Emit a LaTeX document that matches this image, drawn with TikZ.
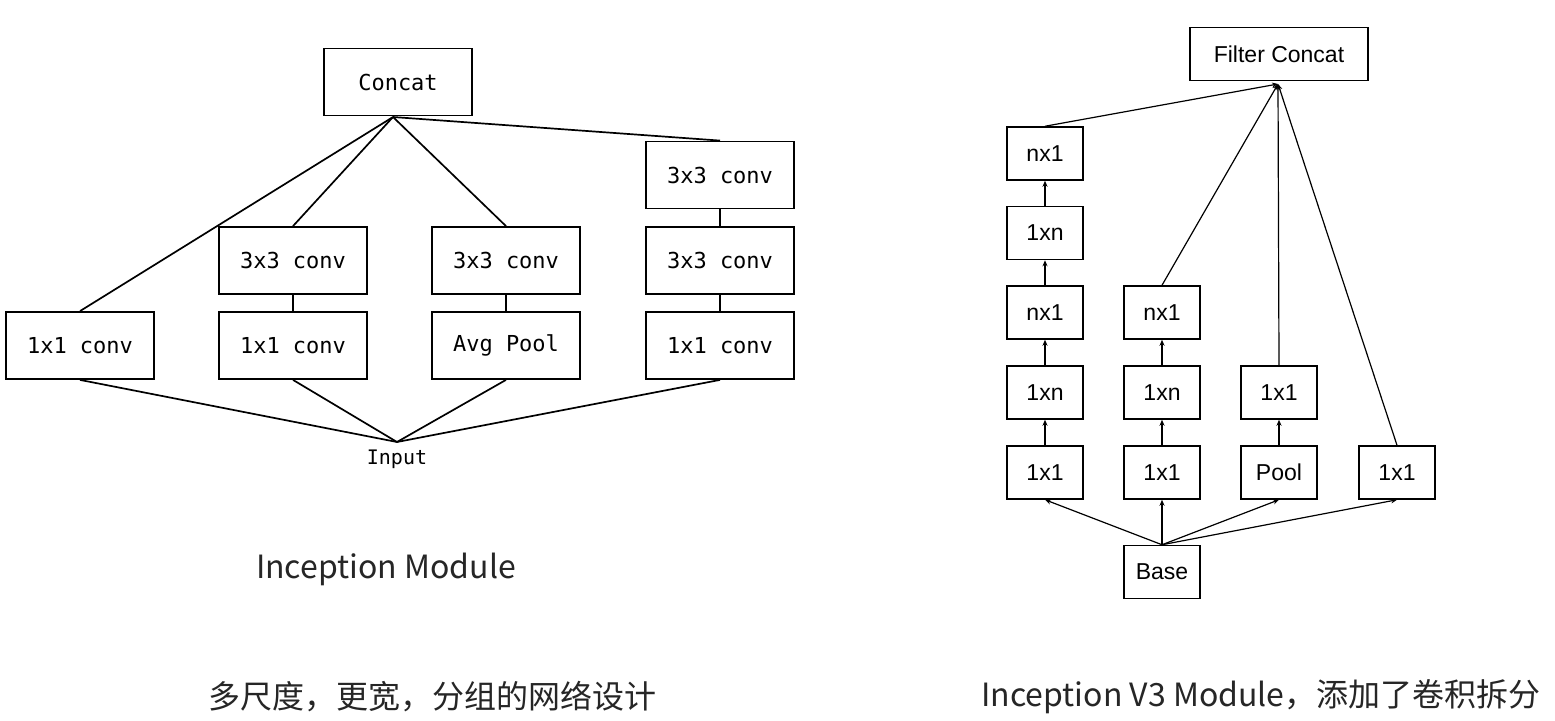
\documentclass[tikz,border=0pt]{standalone}
\usepackage{fontspec}
\setmonofont{DejaVu Sans Mono}
\setsansfont{Liberation Sans}
\newfontfamily\cjk{Noto Sans CJK SC}
\usetikzlibrary{arrows.meta}
\begin{document}
\begin{tikzpicture}[x=1pt, y=-1pt,
  mbox/.style={draw, line width=1.8pt, minimum width=148pt, minimum height=67pt, inner sep=0pt, font=\fontsize{22}{24}\selectfont\ttfamily},
  vbox/.style={draw, line width=1.5pt, minimum width=76pt, minimum height=53pt, inner sep=0pt, font=\fontsize{23}{25}\selectfont\sffamily},
  mline/.style={line width=1.7pt},
  varr/.style={line width=1.2pt, -{Stealth[length=6pt,width=5pt]}},
  captext/.style={font=\fontsize{32}{34}\selectfont\cjk, text=black!85}]
\useasboundingbox[fill=white] (0,0) rectangle (1555,720);
% Inception Module
\node[mbox] (concat) at (398,82){Concat};
\node[mbox] (c1) at (80,345.5){1x1 conv};
\node[mbox] (b2) at (293,260.5){3x3 conv};
\node[mbox] (a2) at (293,345.5){1x1 conv};
\node[mbox] (b3) at (506,260.5){3x3 conv};
\node[mbox] (a3) at (506,345.5){Avg Pool};
\node[mbox] (c4) at (720,175){3x3 conv};
\node[mbox] (b4) at (720,260.5){3x3 conv};
\node[mbox] (a4) at (720,345.5){1x1 conv};
\node[font=\fontsize{20}{22}\selectfont\ttfamily] (input) at (397,459){Input};
\coordinate (mtop) at (393,117);
\coordinate (mbot) at (397,442);
\draw[mline](c1.north) -- (mtop);
\draw[mline](b2.north) -- (mtop);
\draw[mline](b3.north) -- (mtop);
\draw[mline](c4.north) -- (mtop);
\draw[mline](a2) -- (b2);
\draw[mline](a3) -- (b3);
\draw[mline](a4) -- (b4);
\draw[mline](b4) -- (c4);
\draw[mline](c1.south) -- (mbot);
\draw[mline](a2.south) -- (mbot);
\draw[mline](a3.south) -- (mbot);
\draw[mline](a4.south) -- (mbot);
\node[captext] (mcap) at (386,569){Inception Module};
\node[captext] (mtxt) at (432,697){多尺度，更宽，分组的网络设计};
% Inception V3 Module
\node[vbox, minimum width=178pt] (fcat) at (1279,54){Filter Concat};
\node[vbox] (p5) at (1045,153.5){nx1};
\node[vbox] (p4) at (1045,233){1xn};
\node[vbox] (p3) at (1045,312.5){nx1};
\node[vbox] (p2) at (1045,392.5){1xn};
\node[vbox] (p1) at (1045,472.5){1x1};
\node[vbox] (q3) at (1162,312.5){nx1};
\node[vbox] (q2) at (1162,392.5){1xn};
\node[vbox] (q1) at (1162,472.5){1x1};
\node[vbox] (r2) at (1279,392.5){1x1};
\node[vbox] (r1) at (1279,472.5){Pool};
\node[vbox] (s1) at (1397,472.5){1x1};
\node[vbox] (base) at (1162,572){Base};
\coordinate (vtop) at (1278,84);
\draw[varr](p1) -- (p2);
\draw[varr](p2) -- (p3);
\draw[varr](p3) -- (p4);
\draw[varr](p4) -- (p5);
\draw[varr](q1) -- (q2);
\draw[varr](q2) -- (q3);
\draw[varr](r1) -- (r2);
\draw[varr](p5.north) -- (vtop);
\draw[varr](q3.north) -- (vtop);
\draw[varr](r2.north) -- (vtop);
\draw[varr](s1.north) -- (vtop);
\draw[varr](base.north) -- (p1.south);
\draw[varr](base.north) -- (q1.south);
\draw[varr](base.north) -- (r1.south);
\draw[varr](base.north) -- (s1.south);
\node[captext] (vcap) at (1261,697){Inception V3 Module，添加了卷积拆分};
\end{tikzpicture}
\end{document}
